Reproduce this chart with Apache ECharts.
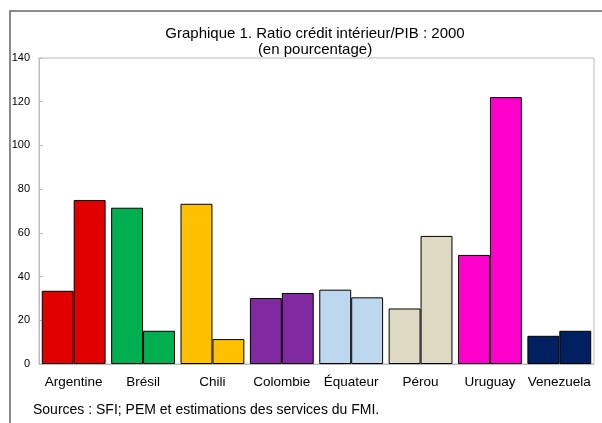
<!DOCTYPE html>
<html>
<head>
<meta charset="utf-8">
<script src="https://cdn.jsdelivr.net/npm/echarts@6/dist/echarts.min.js"></script>
<style>
  html, body { margin: 0; padding: 0; background: #fff; }
  #main { width: 602px; height: 423px; }
</style>
</head>
<body>
<div id="main"></div>
<script>
// données
var pays = ['Argentine', 'Brésil', 'Chili', 'Colombie', 'Équateur', 'Pérou', 'Uruguay', 'Venezuela'];
var serie1 = [33.5, 71.5, 73.3, 30.2, 34.0, 25.4, 49.9, 12.9];
var serie2 = [75.0, 15.2, 11.4, 32.5, 30.5, 58.6, 122.1, 15.2];
var couleurs = ['#E00000', '#00B050', '#FFC000', '#8029A0', '#BDD7EE', '#DDD9C3', '#FF00CC', '#002060'];
var yTicks = [0, 20, 40, 60, 80, 100, 120, 140];

var myChart = echarts.init(document.getElementById('main'));

function barStyle() {
    return {
        color: function (p) { return couleurs[p.dataIndex]; },
        borderColor: '#000',
        borderWidth: 1
    };
}

var option = {
    animation: false,
    textStyle: { fontFamily: 'Liberation Sans, Arial, sans-serif' },
    graphic: [
        {
            type: 'rect',
            shape: { x: 10, y: 11, width: 600, height: 420 },
            style: { fill: 'none', stroke: '#666', lineWidth: 1.5 }
        },
        {
            type: 'text',
            left: 33, top: 403,
            style: { text: 'Sources : SFI; PEM et estimations des services du FMI.', font: '14px Liberation Sans', fill: '#000' }
        }
    ],
    title: {
        text: 'Graphique 1. Ratio crédit intérieur/PIB : 2000\n(en pourcentage)',
        left: 310, textAlign: 'center', top: 21,
        textStyle: { fontSize: 15, fontWeight: 'normal', color: '#000', lineHeight: 16 }
    },
    grid: {
        left: 39, right: 8, top: 58, bottom: 59,
        show: true, borderColor: '#bbb', borderWidth: 1
    },
    xAxis: {
        type: 'category',
        data: pays,
        axisLine: { lineStyle: { color: '#bbb' } },
        axisTick: { inside: true, length: 3, lineStyle: { color: '#bbb' } },
        axisLabel: { color: '#000', fontSize: 13.5, margin: 11, interval: 0 }
    },
    yAxis: {
        type: 'value',
        min: yTicks[0], max: yTicks[yTicks.length - 1], interval: 20,
        axisLine: { show: true, lineStyle: { color: '#bbb' } },
        axisTick: { show: true, inside: true, length: 4, lineStyle: { color: '#bbb' } },
        splitLine: { show: false },
        axisLabel: { color: '#000', fontSize: 11, margin: 9 }
    },
    series: [
        { type: 'bar', data: serie1, barGap: '0%', barCategoryGap: '8%', itemStyle: barStyle() },
        { type: 'bar', data: serie2, barGap: '0%', barCategoryGap: '8%', itemStyle: barStyle() }
    ]
};

myChart.setOption(option);
</script>
</body>
</html>
